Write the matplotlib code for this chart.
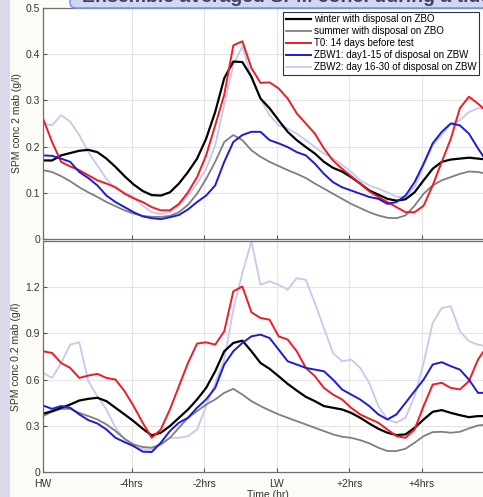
import numpy as np
import matplotlib
matplotlib.use("Agg")
import matplotlib.pyplot as plt
from matplotlib.patches import FancyBboxPatch, Rectangle

plt.rcParams['font.family'] = ['Liberation Sans', 'DejaVu Sans']

# time axis in hours relative to low water, sampled every 15 min from high water
t_start = -6.45
time_hr = t_start + 0.25 * np.arange(50)

tick_pos = [t_start, -4, -2, 0, 2, 4]
tick_labels = ["HW", "-4hrs", "-2hrs", "LW", "+2hrs", "+4hrs"]

series_names = [
    "winter with disposal on ZBO",
    "summer with disposal on ZBO",
    "T0: 14 days before test",
    "ZBW1: day1-15 of disposal on ZBW",
    "ZBW2: day 16-30 of disposal on ZBW",
]

# SPM concentration 2 m above bed (g/l)
winter_2m = [0.170, 0.170, 0.181, 0.186, 0.191, 0.193, 0.188, 0.174, 0.156, 0.136,
             0.118, 0.104, 0.095, 0.094, 0.101, 0.120, 0.145, 0.174, 0.217, 0.275,
             0.348, 0.384, 0.383, 0.351, 0.304, 0.283, 0.257, 0.232, 0.214, 0.199,
             0.185, 0.167, 0.154, 0.146, 0.134, 0.120, 0.105, 0.096, 0.087, 0.083,
             0.086, 0.101, 0.127, 0.152, 0.167, 0.172, 0.174, 0.176, 0.174, 0.172]
summer_2m = [0.149, 0.145, 0.136, 0.125, 0.112, 0.101, 0.091, 0.080, 0.071, 0.062,
             0.055, 0.050, 0.048, 0.048, 0.050, 0.058, 0.074, 0.098, 0.130, 0.167,
             0.210, 0.225, 0.214, 0.192, 0.178, 0.167, 0.158, 0.149, 0.141, 0.132,
             0.120, 0.109, 0.098, 0.087, 0.076, 0.067, 0.058, 0.051, 0.046, 0.045,
             0.051, 0.072, 0.098, 0.116, 0.127, 0.134, 0.141, 0.146, 0.145, 0.141]
t0_2m = [0.261, 0.210, 0.167, 0.157, 0.149, 0.138, 0.127, 0.120, 0.112, 0.098,
         0.088, 0.080, 0.069, 0.062, 0.062, 0.076, 0.101, 0.134, 0.181, 0.246,
         0.312, 0.419, 0.428, 0.370, 0.338, 0.339, 0.326, 0.304, 0.272, 0.250,
         0.228, 0.196, 0.170, 0.152, 0.136, 0.120, 0.103, 0.091, 0.080, 0.069,
         0.058, 0.058, 0.072, 0.116, 0.167, 0.217, 0.283, 0.308, 0.293, 0.275]
zbw1_2m = [0.181, 0.180, 0.174, 0.167, 0.145, 0.132, 0.116, 0.094, 0.080, 0.069,
           0.058, 0.049, 0.045, 0.043, 0.047, 0.052, 0.064, 0.080, 0.094, 0.116,
           0.167, 0.210, 0.225, 0.232, 0.232, 0.214, 0.207, 0.199, 0.188, 0.181,
           0.163, 0.141, 0.123, 0.112, 0.105, 0.098, 0.091, 0.087, 0.076, 0.080,
           0.094, 0.123, 0.163, 0.207, 0.232, 0.250, 0.246, 0.228, 0.196, 0.167]
zbw2_2m = [0.250, 0.246, 0.268, 0.254, 0.225, 0.188, 0.159, 0.130, 0.109, 0.101,
           0.091, 0.072, 0.058, 0.054, 0.058, 0.072, 0.094, 0.120, 0.152, 0.203,
           0.290, 0.377, 0.417, 0.348, 0.304, 0.268, 0.246, 0.239, 0.228, 0.214,
           0.199, 0.185, 0.174, 0.161, 0.145, 0.127, 0.116, 0.109, 0.101, 0.091,
           0.091, 0.112, 0.159, 0.203, 0.225, 0.250, 0.257, 0.275, 0.283, 0.283]

# SPM concentration 0.2 m above bed (g/l)
winter_02m = [0.378, 0.395, 0.417, 0.438, 0.464, 0.475, 0.482, 0.460, 0.417, 0.374,
              0.330, 0.281, 0.238, 0.255, 0.298, 0.352, 0.406, 0.471, 0.546, 0.654,
              0.784, 0.838, 0.853, 0.784, 0.708, 0.670, 0.622, 0.572, 0.529, 0.488,
              0.460, 0.428, 0.417, 0.406, 0.384, 0.352, 0.315, 0.281, 0.255, 0.240,
              0.244, 0.287, 0.341, 0.391, 0.402, 0.384, 0.369, 0.356, 0.363, 0.363]
summer_02m = [0.363, 0.391, 0.410, 0.410, 0.384, 0.363, 0.341, 0.309, 0.266, 0.216,
              0.179, 0.162, 0.158, 0.179, 0.222, 0.287, 0.352, 0.395, 0.438, 0.471,
              0.514, 0.540, 0.503, 0.460, 0.428, 0.400, 0.374, 0.352, 0.330, 0.309,
              0.287, 0.266, 0.244, 0.229, 0.222, 0.207, 0.186, 0.158, 0.136, 0.136,
              0.151, 0.190, 0.233, 0.259, 0.261, 0.255, 0.261, 0.283, 0.302, 0.309]
t0_02m = [0.784, 0.773, 0.708, 0.676, 0.611, 0.626, 0.637, 0.611, 0.600, 0.525,
          0.428, 0.320, 0.222, 0.276, 0.406, 0.557, 0.708, 0.834, 0.842, 0.827,
          0.914, 1.173, 1.205, 1.037, 1.000, 0.989, 0.881, 0.860, 0.784, 0.676,
          0.622, 0.546, 0.503, 0.471, 0.417, 0.374, 0.346, 0.320, 0.276, 0.233,
          0.222, 0.276, 0.428, 0.568, 0.579, 0.546, 0.536, 0.590, 0.730, 0.816]
zbw1_02m = [0.432, 0.410, 0.428, 0.417, 0.374, 0.337, 0.315, 0.276, 0.222, 0.194,
            0.168, 0.132, 0.130, 0.190, 0.266, 0.320, 0.352, 0.417, 0.471, 0.546,
            0.698, 0.784, 0.838, 0.881, 0.892, 0.870, 0.795, 0.719, 0.698, 0.676,
            0.665, 0.654, 0.600, 0.536, 0.503, 0.471, 0.428, 0.374, 0.341, 0.374,
            0.449, 0.525, 0.600, 0.698, 0.713, 0.687, 0.665, 0.600, 0.514, 0.514]
zbw2_02m = [0.644, 0.611, 0.708, 0.827, 0.842, 0.590, 0.492, 0.406, 0.287, 0.212,
            0.168, 0.147, 0.147, 0.179, 0.222, 0.222, 0.233, 0.276, 0.428, 0.579,
            0.730, 1.054, 1.292, 1.497, 1.216, 1.238, 1.216, 1.184, 1.259, 1.248,
            1.097, 0.935, 0.773, 0.719, 0.730, 0.676, 0.579, 0.428, 0.341, 0.320,
            0.352, 0.492, 0.708, 0.968, 1.065, 1.076, 0.914, 0.849, 0.827, 0.816]

colors = ["#000000", "#7f7f7f", "#ee1c24", "#1c1cd6", "#c6c8ef"]
widths = [1.6, 1.3, 1.4, 1.4, 1.3]

W, H = 483, 497
fig = plt.figure(figsize=(W / 100, H / 100), dpi=100, facecolor="#fcfbf5")

# slide background strip on the left
fig.patches.append(Rectangle((0, 0), 10 / W, 1, transform=fig.transFigure,
                             facecolor="#d9d9ea", edgecolor="none", zorder=0))

ax_left = 43 / W
ax_right = 493 / W
ax_top = fig.add_axes([ax_left, 1 - 239 / H, ax_right - ax_left, 231 / H])
ax_bot = fig.add_axes([ax_left, 1 - 472 / H, ax_right - ax_left, 231 / H])

x_max = t_start + (493 - 43) / 36.25

def style(ax, ymax, yticks, ylabels, ylabel):
    ax.set_xlim(t_start, x_max)
    ax.set_ylim(0, ymax)
    ax.set_xticks(tick_pos)
    ax.set_yticks(yticks)
    ax.set_yticklabels(ylabels)
    ax.grid(True, color="#e4e4e4", lw=0.8)
    ax.set_axisbelow(True)
    ax.tick_params(direction="in", length=3, width=0.8, colors="#555555",
                   labelcolor="#333333", labelsize=7.5, pad=2)
    for sp in ax.spines.values():
        sp.set_color("#6e6e6e")
        sp.set_linewidth(0.9)
    ax.set_ylabel(ylabel, fontsize=7.5, color="#333333", labelpad=3)

top_series = [winter_2m, summer_2m, t0_2m, zbw1_2m, zbw2_2m]
bot_series = [winter_02m, summer_02m, t0_02m, zbw1_02m, zbw2_02m]

draw_order = [4, 1, 0, 2, 3]
for i in draw_order:
    ax_top.plot(time_hr, top_series[i], color=colors[i], lw=widths[i],
                label=series_names[i])
    ax_bot.plot(time_hr, bot_series[i], color=colors[i], lw=widths[i])

style(ax_top, 0.5, [0, 0.1, 0.2, 0.3, 0.4, 0.5],
      ["0", "0.1", "0.2", "0.3", "0.4", "0.5"], "SPM conc 2 mab (g/l)")
style(ax_bot, 1.5, [0, 0.3, 0.6, 0.9, 1.2, 1.5],
      ["0", "0.3", "0.6", "0.9", "1.2", ""], "SPM conc 0.2 mab (g/l)")
ax_top.set_xticklabels([])
ax_bot.set_xticklabels(tick_labels)
ax_bot.tick_params(axis="x", pad=5)
ax_bot.set_xlabel("Time (hr)", fontsize=7.5, color="#333333", labelpad=1)

handles, labels = ax_top.get_legend_handles_labels()
order = [labels.index(n) for n in series_names]
leg = ax_top.legend([handles[k] for k in order], [labels[k] for k in order],
                    loc="upper right", bbox_to_anchor=(479 / W, 1 - 12 / H),
                    bbox_transform=fig.transFigure, fontsize=7,
                    frameon=True, fancybox=False, framealpha=1,
                    edgecolor="#333333", borderaxespad=0, borderpad=0.25,
                    handlelength=2.6, handletextpad=0.3, labelspacing=0.2)
leg.get_frame().set_linewidth(0.8)
leg.set_zorder(10)

# title banner
banner = FancyBboxPatch((70 / W, 1 - 8 / H), 460 / W, 30 / H,
                        boxstyle="round,pad=0,rounding_size=0.012",
                        transform=fig.transFigure, facecolor="#d3d6f3",
                        edgecolor="#7b97e0", linewidth=1.2, zorder=5)
fig.patches.append(banner)
fig.text(82 / W, 1 - 2 / H, "Ensemble averaged SPM conc. during a tide",
         fontsize=14, fontweight="bold", color="#3f4060", ha="left",
         va="baseline", zorder=6)

fig.savefig("out.png", dpi=100, facecolor=fig.get_facecolor())
